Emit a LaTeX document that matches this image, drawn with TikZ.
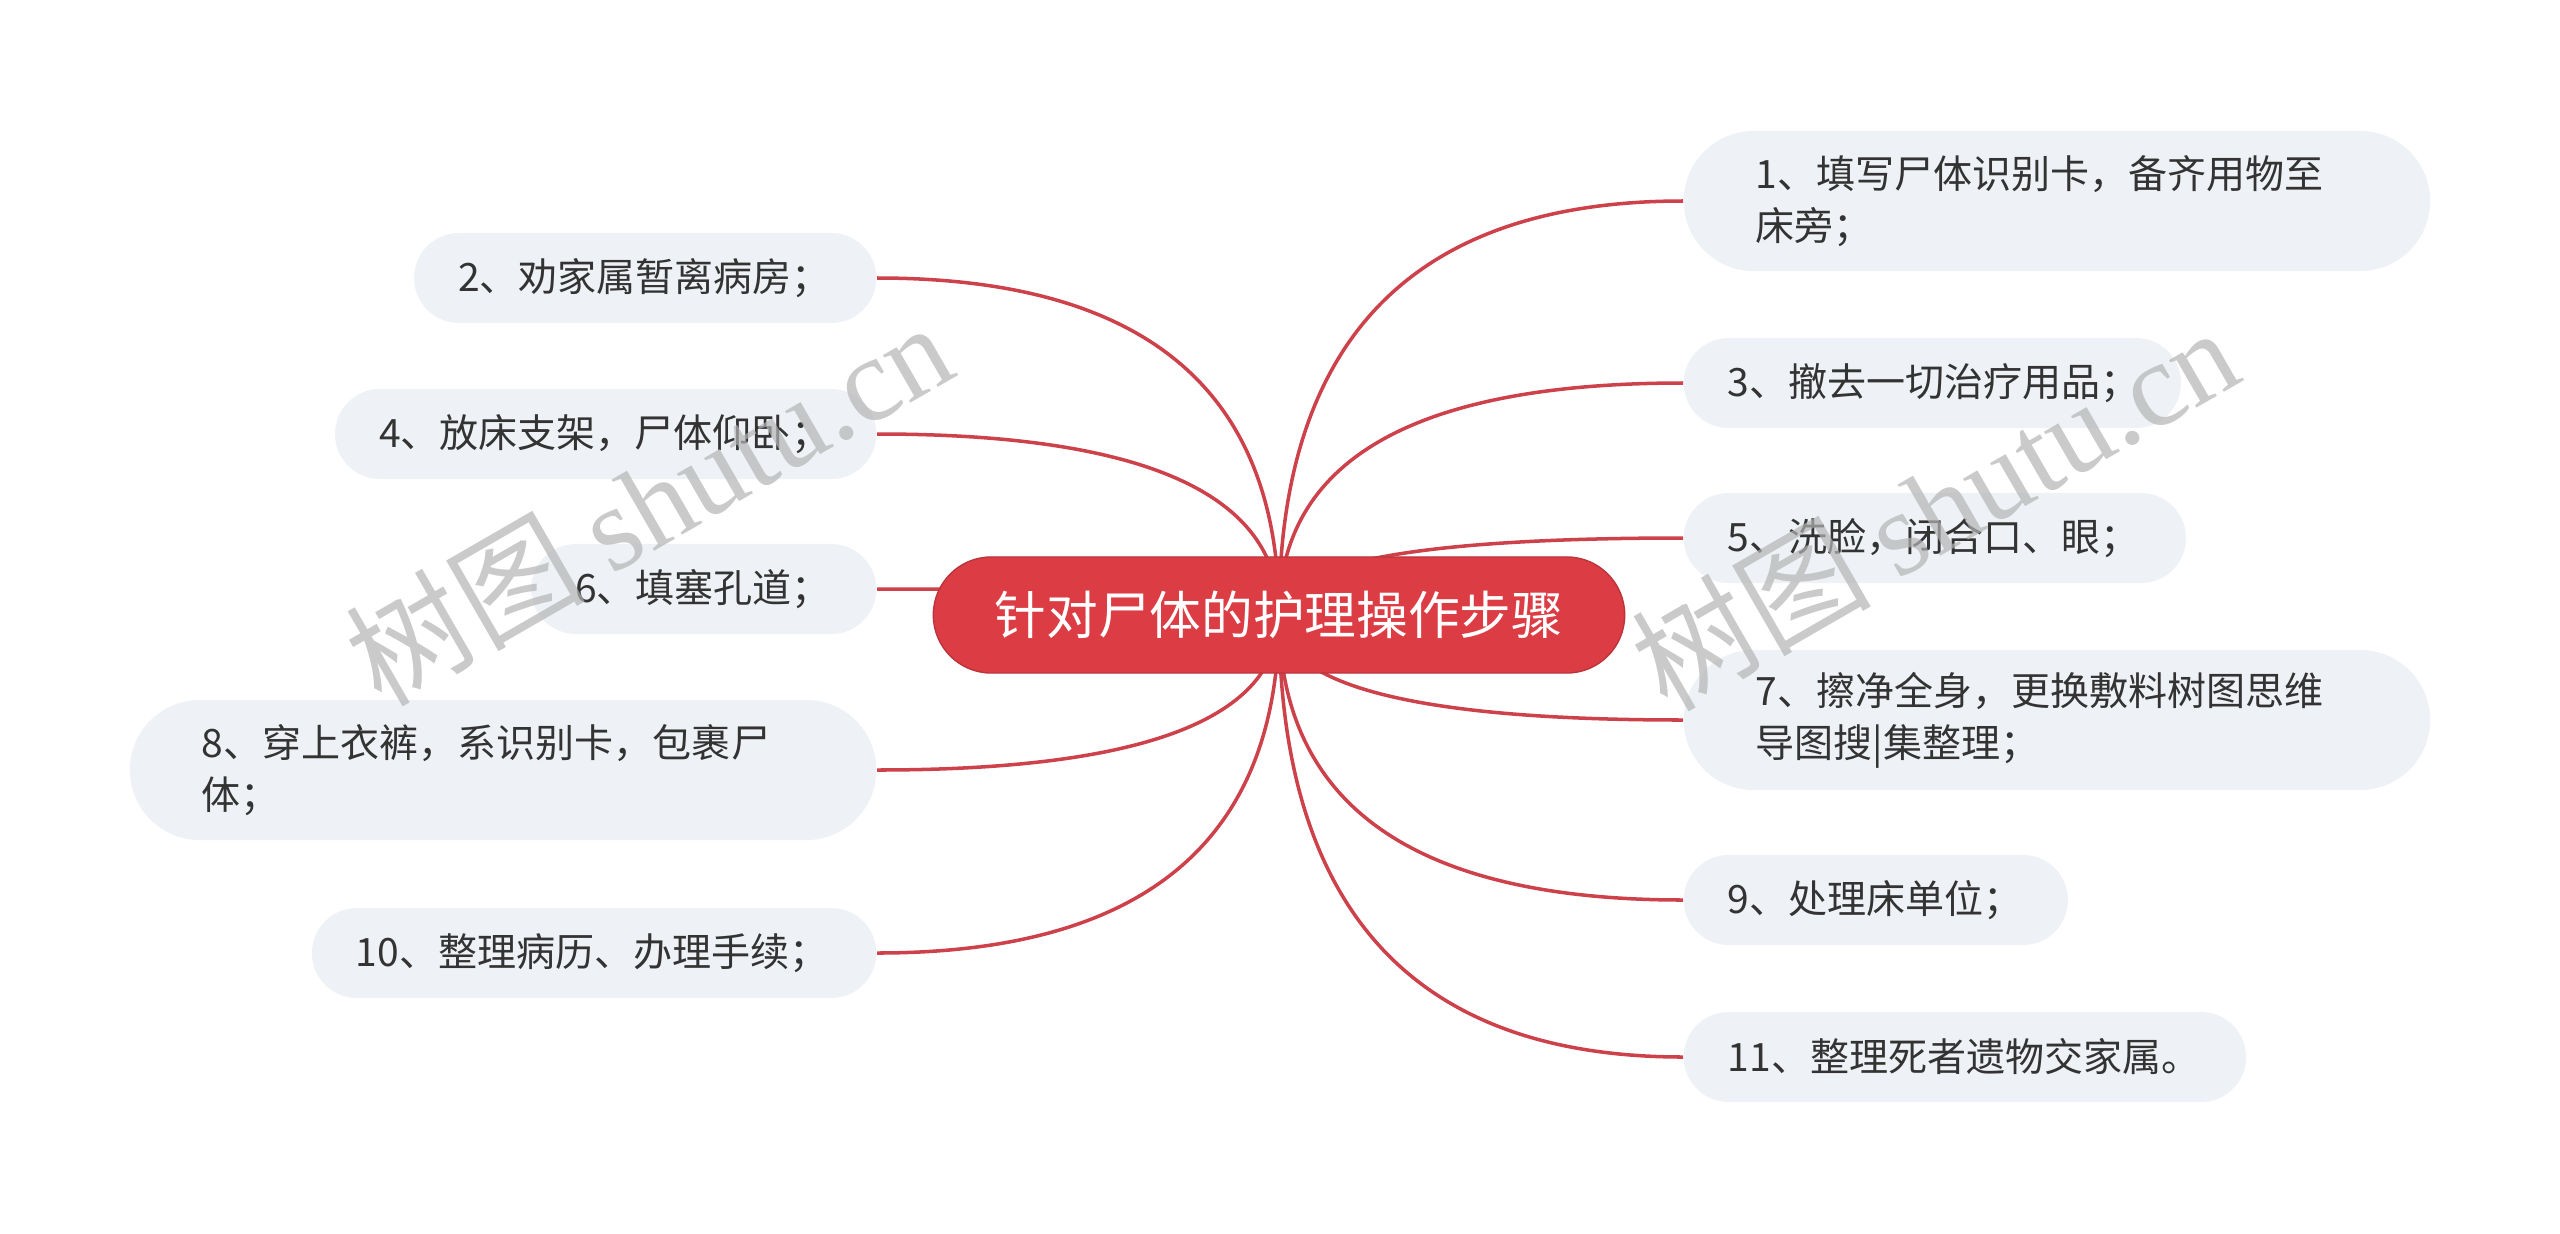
\documentclass[tikz,border=0pt]{standalone}
\usepackage{fontspec}
\setmainfont{Noto Sans CJK SC}
\newfontfamily\wmfont{Liberation Serif}
\usetikzlibrary{calc}
\definecolor{mainred}{HTML}{DC3D45}
\definecolor{linered}{HTML}{CD424A}
\definecolor{leaffill}{HTML}{EEF1F5}
\definecolor{leaftext}{HTML}{333333}
\definecolor{wmgray}{HTML}{B4B4B4}
\pgfdeclarelayer{paper}
\pgfdeclarelayer{bg}
\pgfsetlayers{paper,bg,main}
\begin{document}
\begin{tikzpicture}[x=0.01cm,y=-0.01cm,
 root/.style={fill=mainred, draw=mainred!85!black, line width=0.4pt, rounded corners=0.58cm,
   minimum width=6.91cm, minimum height=1.16cm, text=white,
   font=\fontsize{14.7pt}{18pt}\selectfont, inner sep=0pt},
 leaf/.style={fill=leaffill, text=leaftext, font=\fontsize{11.1pt}{14.8pt}\selectfont,
   align=left, inner ysep=0pt, minimum height=0.9cm, rounded corners=0.45cm, inner xsep=0.44cm},
 tall/.style={minimum height=1.40cm, rounded corners=0.70cm, inner xsep=0.72cm},
 link/.style={draw=linered, line width=1pt},
 wm/.style={text=wmgray, opacity=0.7, rotate=30, font=\fontsize{34pt}{38pt}\selectfont}
]
\begin{pgfonlayer}{paper}
\useasboundingbox[fill=white] (0,0) rectangle (2560,1233);
\end{pgfonlayer}

\node[root] (root) at (1279,615) {针对尸体的护理操作步骤};

\node[leaf,tall,text width=6.02cm,anchor=west] (n1) at (1683,201) {1、填写尸体识别卡，备齐用物至\\床旁；};
\node[leaf,text width=4.09cm,anchor=west] (n3) at (1683,383) {3、撤去一切治疗用品；};
\node[leaf,text width=4.14cm,anchor=west] (n5) at (1683,538) {5、洗脸，闭合口、眼；};
\node[leaf,tall,text width=6.02cm,anchor=west] (n7) at (1683,720) {7、擦净全身，更换敷料树图思维\\导图搜|集整理；};
\node[leaf,text width=2.96cm,anchor=west] (n9) at (1683,900) {9、处理床单位；};
\node[leaf,text width=4.74cm,anchor=west] (n11) at (1683,1057) {11、整理死者遗物交家属。};

\node[leaf,text width=3.74cm,anchor=east] (n2) at (877,278) {2、劝家属暂离病房；};
\node[leaf,text width=4.53cm,anchor=east] (n4) at (877,434) {4、放床支架，尸体仰卧；};
\node[leaf,text width=2.57cm,anchor=east] (n6) at (877,589) {6、填塞孔道；};
\node[leaf,tall,text width=6.02cm,anchor=east] (n8) at (877,770) {8、穿上衣裤，系识别卡，包裹尸\\体；};
\node[leaf,text width=4.76cm,anchor=east] (n10) at (877,953) {10、整理病历、办理手续；};

\begin{pgfonlayer}{bg}
\foreach \n/\a in {n1/west,n3/west,n5/west,n7/west,n9/west,n11/west,n2/east,n4/east,n6/east,n8/east,n10/east}{
  \coordinate (k-\n) at (root.center |- \n.\a);
  \draw[link] (root.center) .. controls ($(root.center)!0.6667!(k-\n)$) and ($(\n.\a)!0.6667!(k-\n)$) .. (\n.\a);
}
\end{pgfonlayer}

\node[wm] (wm1) at (648,502) {树图 {\wmfont shutu.cn}};
\node[wm] (wm2) at (1934,507) {树图 {\wmfont shutu.cn}};
\end{tikzpicture}
\end{document}
